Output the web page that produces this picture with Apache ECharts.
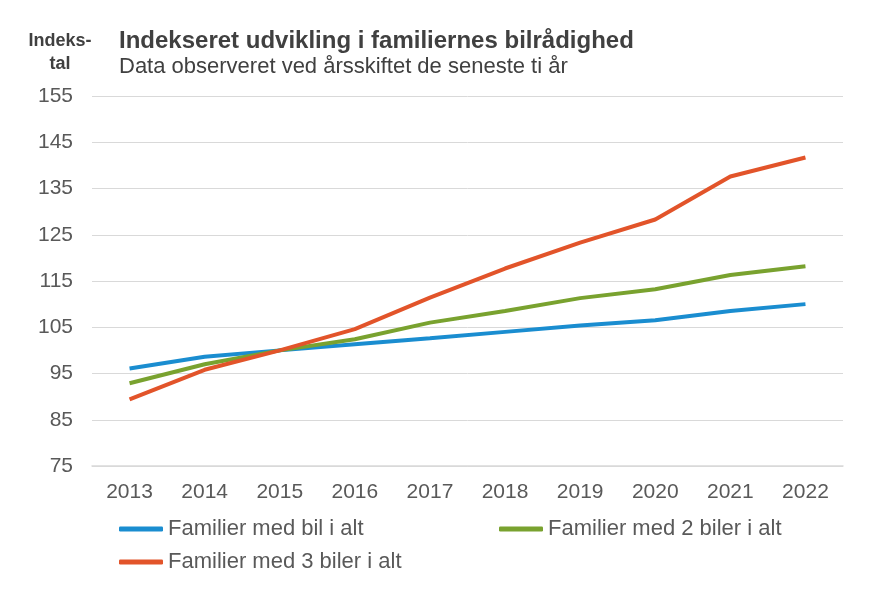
<!DOCTYPE html>
<html>
<head>
<meta charset="utf-8">
<script src="https://cdn.jsdelivr.net/npm/echarts@6/dist/echarts.min.js"></script>
<style>
html,body{margin:0;padding:0;background:#fff;}
#main{width:873px;height:600px;}
</style>
</head>
<body>
<div id="main"></div>
<script>
var years = ['2013','2014','2015','2016','2017','2018','2019','2020','2021','2022'];
var bil1 = [96.1, 98.6, 100, 101.3, 102.6, 104.0, 105.4, 106.5, 108.5, 110.0];
var bil2 = [92.9, 97.0, 100, 102.4, 106.0, 108.5, 111.3, 113.2, 116.3, 118.2];
var bil3 = [89.4, 95.8, 100, 104.6, 111.4, 117.7, 123.3, 128.3, 137.6, 141.7];
var names = ['Familier med bil i alt', 'Familier med 2 biler i alt', 'Familier med 3 biler i alt'];
var colors = ['#1a8dd0', '#79a22f', '#e2542a'];

var chart = echarts.init(document.getElementById('main'));

var font = '"Liberation Sans", Arial, sans-serif';
var legendText = {color: '#595959', fontSize: 22, fontFamily: font};

function mkLegend(name, left, top) {
	return {
		data: [name],
		left: left,
		top: top,
		icon: 'roundRect',
		itemWidth: 44,
		itemHeight: 5,
		itemGap: 0,
		padding: 0,
		textStyle: legendText,
		selectedMode: false
	};
}

var option = {
	animation: false,
	color: colors,
	title: [{
		text: 'Indekseret udvikling i familiernes bilrådighed',
		subtext: 'Data observeret ved årsskiftet de seneste ti år',
		left: 119,
		top: 29,
		itemGap: 3,
		padding: 0,
		textStyle: {color: '#404040', fontSize: 24, fontWeight: 'bold', fontFamily: font},
		subtextStyle: {color: '#404040', fontSize: 22, fontFamily: font}
	}, {
		text: 'Indeks-\ntal',
		left: 60,
		top: 30,
		textAlign: 'center',
		padding: 0,
		textStyle: {color: '#404040', fontSize: 18, fontWeight: 'bold', fontFamily: font, lineHeight: 23, align: 'center'}
	}],
	legend: [
		mkLegend(names[0], 119, 518),
		mkLegend(names[1], 499, 518),
		mkLegend(names[2], 119, 551)
	],
	grid: {left: 92, right: 30, top: 96, bottom: 134},
	xAxis: {
		type: 'category',
		data: years,
		boundaryGap: true,
		axisLine: {lineStyle: {color: '#d9d9d9', width: 1.5}},
		axisTick: {show: false},
		axisLabel: {color: '#595959', fontSize: 21, fontFamily: font, margin: 16}
	},
	yAxis: {
		type: 'value',
		min: 75,
		max: 155,
		interval: 10,
		axisLine: {show: false},
		axisTick: {show: false},
		splitLine: {lineStyle: {color: '#d9d9d9', width: 1}},
		axisLabel: {color: '#595959', fontSize: 21, fontFamily: font, margin: 19}
	},
	series: [
		{name: names[0], type: 'line', data: bil1, symbol: 'none', lineStyle: {width: 4}},
		{name: names[1], type: 'line', data: bil2, symbol: 'none', lineStyle: {width: 4}},
		{name: names[2], type: 'line', data: bil3, symbol: 'none', lineStyle: {width: 4}}
	]
};

chart.setOption(option);
</script>
</body>
</html>
